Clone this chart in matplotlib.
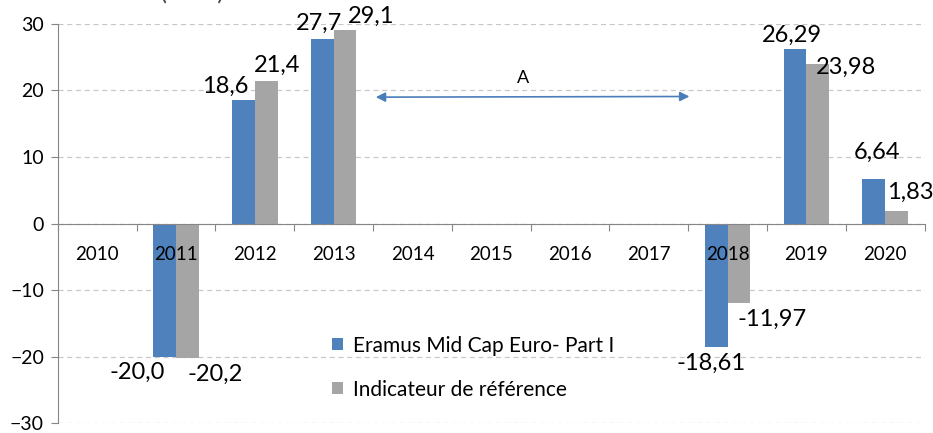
import matplotlib
matplotlib.use("Agg")
from matplotlib import pyplot as plt
import numpy as np

years = ["2010", "2011", "2012", "2013", "2014", "2015", "2016", "2017", "2018", "2019", "2020"]
fund = [np.nan, -20.0, 18.6, 27.7, np.nan, np.nan, np.nan, np.nan, -18.61, 26.29, 6.64]
index = [np.nan, -20.2, 21.4, 29.1, np.nan, np.nan, np.nan, np.nan, -11.97, 23.98, 1.83]
fund_labels = ["", "-20,0", "18,6", "27,7", "", "", "", "", "-18,61", "26,29", "6,64"]
index_labels = ["", "-20,2", "21,4", "29,1", "", "", "", "", "-11,97", "23,98", "1,83"]
series_names = ["Eramus Mid Cap Euro- Part I", "Indicateur de référence"]

# label nudges (points) so they sit like in the original
fund_off = [(0, 0), (-20, -4), (-13, 2), (-2, 4), (0, 0), (0, 0), (0, 0), (0, 0), (-4, -4), (-2, 2), (2, 12)]
index_off = [(0, 0), (20, -4), (8, 4), (19, 2), (0, 0), (0, 0), (0, 0), (0, 0), (24, -4), (20, -10), (10, 6)]

BLUE = "#4f81bd"
GRAY = "#a5a5a5"
AXC = "#868686"

plt.rcParams['font.family'] = ['Lato', 'DejaVu Sans']

fig = plt.figure(figsize=(9.33, 4.33), dpi=100)
ax = fig.add_axes([0.062, 0.023, 0.929, 0.9216])

x = np.arange(len(years)) + 0.5
w = 0.29
ax.bar(x - w / 2, fund, w, color=BLUE, label=series_names[0], zorder=2)
ax.bar(x + w / 2, index, w, color=GRAY, label=series_names[1], zorder=2)

for xi, v, lab, off in zip(x - w / 2, fund, fund_labels, fund_off):
    if lab:
        ax.annotate(lab, (xi, v), xytext=off, textcoords="offset points",
                    ha="center", va="bottom" if v > 0 else "top", fontsize=17, zorder=5)
for xi, v, lab, off in zip(x + w / 2, index, index_labels, index_off):
    if lab:
        ax.annotate(lab, (xi, v), xytext=off, textcoords="offset points",
                    ha="center", va="bottom" if v > 0 else "top", fontsize=17, zorder=5)

ax.set_xlim(0, len(years))
ax.set_ylim(-30, 30)
ax.set_yticks(range(-30, 31, 10))
ax.tick_params(axis="y", labelsize=14, length=5, color=AXC, pad=5)
ax.yaxis.grid(True, linestyle=(0, (4, 3)), color="#c8c8c8", linewidth=0.9)
ax.yaxis.set_zorder(1)

ax.set_xticks(np.arange(len(years) + 1))
ax.set_xticklabels([])
ax.set_xticks(x, minor=True)
ax.set_xticklabels(years, minor=True)
ax.tick_params(axis="x", which="major", length=5, color=AXC, direction="out")
ax.tick_params(axis="x", which="minor", length=0, labelsize=13.5, pad=16)
ax.xaxis.set_zorder(4)

ax.spines["bottom"].set_position(("data", 0))
ax.spines["bottom"].set_color(AXC)
ax.spines["bottom"].set_zorder(4)
ax.spines["left"].set_color(AXC)
ax.spines["top"].set_visible(False)
ax.spines["right"].set_visible(False)

ax.annotate("", xy=(8.05, 19.1), xytext=(4.0, 19.0),
            arrowprops=dict(arrowstyle="<|-|>", color="#4a7ebb", lw=1.2, mutation_scale=14))
ax.text(5.9, 20.7, "A", ha="center", va="bottom", fontsize=13)

ax.legend(loc="lower left", bbox_to_anchor=(0.295, 0.012), frameon=False, fontsize=15,
          handlelength=0.5, handleheight=0.5, labelspacing=1.15, handletextpad=0.5)

# title sits mostly above the visible area in the original
fig.text(0.012, 1.002, "Performances (en %)", fontsize=17, va="baseline", color="#404040")

fig.savefig("out.png", dpi=100)
